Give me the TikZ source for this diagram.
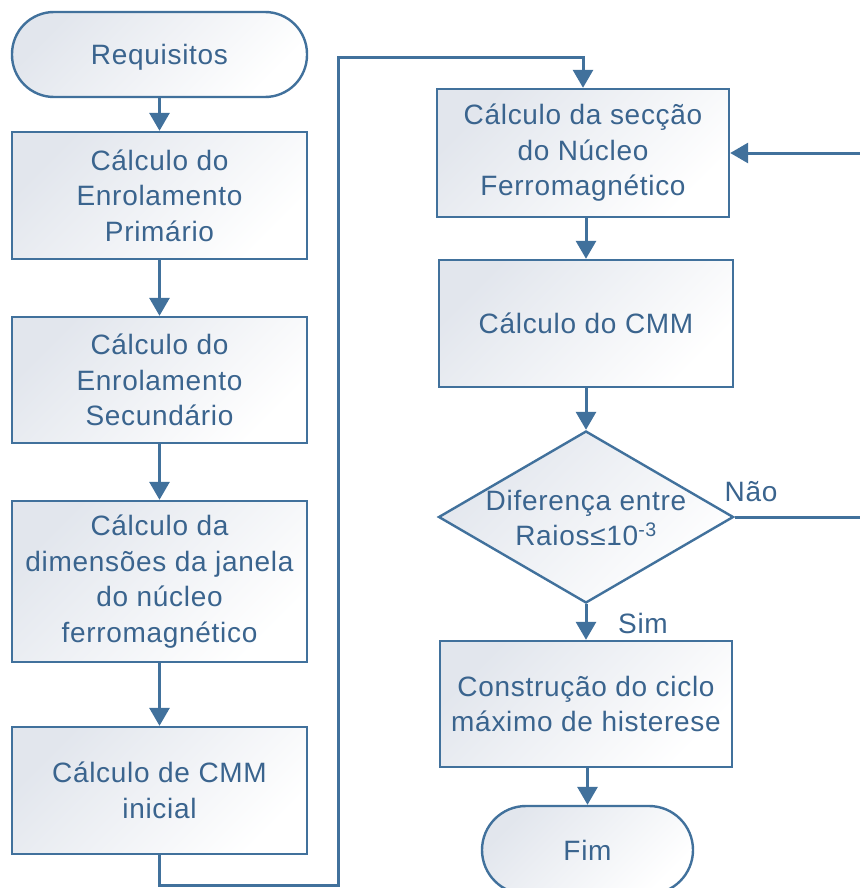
\documentclass[tikz,border=0pt]{standalone}
\usepackage{fontspec}
\setmainfont{Liberation Sans}[LetterSpace=2.5]
\usetikzlibrary{shapes.geometric,arrows.meta}
\definecolor{lc}{RGB}{65,113,156}
\definecolor{tc}{RGB}{58,100,142}
\definecolor{fa}{RGB}{226,230,237}
\begin{document}
\begin{tikzpicture}[x=1pt,y=-1pt,
  shapefill/.style={draw=lc, line width=2.4pt, top color=fa, bottom color=white, shading angle=45},
  box/.style={shapefill, text=tc, font=\fontsize{28}{35.5}\selectfont, align=center, inner sep=0pt, minimum width=#1},
  box/.default=295pt,
  term/.style={box=#1, rounded corners=42pt},
  txt/.style={text=tc, font=\fontsize{28}{35.5}\selectfont, align=center, inner sep=0pt},
  conn/.style={draw=lc, line width=3pt, -{Triangle[width=20pt,length=18pt]}},
  plain/.style={draw=lc, line width=3pt}]
\path[use as bounding box, fill=white] (0,0) rectangle (859,888);

% left column
\node[term=295pt, minimum height=85pt, text depth=0pt] (req) at (159.5,54.5) {Requisitos};
\node[box, minimum height=127pt] (b1) at (159.5,195.5) {Cálculo do\\Enrolamento\\Primário};
\node[box, minimum height=126pt] (b2) at (159.5,380) {Cálculo do\\Enrolamento\\Secundário};
\node[box, minimum height=161pt] (b3) at (159.5,581.5) {Cálculo da\\dimensões da janela\\do núcleo\\ferromagnético};
\node[box, minimum height=127pt] (b4) at (159.5,790.5) {Cálculo de CMM\\inicial};

% right column
\node[box=292pt, minimum height=128pt] (b5) at (583,153) {Cálculo da secção\\do Núcleo\\Ferromagnético};
\node[box=294pt, minimum height=127pt] (b6) at (586,323.5) {Cálculo do CMM};
\node[shapefill, diamond, minimum width=295pt, minimum height=172pt, inner sep=0pt] (dia) at (586,517) {};
\node[txt] (diat) at (586,518) {Diferença entre\\Raios≤10\textsuperscript{-3}};
\node[box=292pt, minimum height=126pt] (b7) at (586,704) {Construção do ciclo\\máximo de histerese};
\node[term=211pt, minimum height=88pt, rounded corners=44pt] (fim) at (587.5,850) {Fim};

\node[txt] (nao) at (751,492) {Não};
\node[txt] (sim) at (643,623) {Sim};

% connectors
\draw[conn] (req) -- (b1);
\draw[conn] (b1) -- (b2);
\draw[conn] (b2) -- (b3);
\draw[conn] (b3) -- (b4);
\coordinate (c1) at (159.5,885);
\coordinate (c2) at (338,885);
\coordinate (c3) at (338,58);
\coordinate (c4) at (583,58);
\draw[conn] (b4.south) -- (c1) -- (c2) -- (c3) -- (c4) -- (b5.north);
\draw[conn] (b5.south -| b6.north) -- (b6.north);
\draw[conn] (b6) -- (dia);
\draw[conn] (dia) -- (b7);
\draw[conn] (b7.south -| fim.north) -- (fim.north);
\coordinate (r1) at (863,517);
\coordinate (r2) at (863,153);
\draw[conn] (dia.east) -- (r1) -- (r2) -- (b5.east);
\end{tikzpicture}
\end{document}
